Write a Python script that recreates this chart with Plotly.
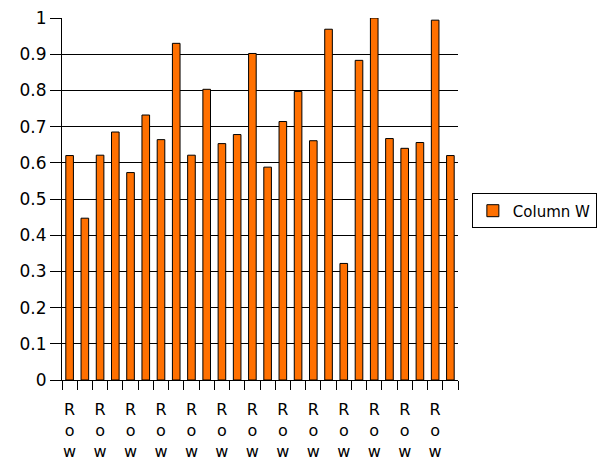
import plotly.graph_objects as go

categories = [f"Row {i}" for i in range(1, 27)]
values = [0.620, 0.447, 0.621, 0.685, 0.573, 0.732, 0.664, 0.930, 0.621, 0.803,
          0.653, 0.678, 0.902, 0.588, 0.714, 0.797, 0.661, 0.969, 0.322, 0.883,
          1.000, 0.667, 0.640, 0.656, 0.994, 0.620]
tick_labels = ["R<br>o<br>w" if i % 2 == 0 else "" for i in range(len(categories))]
y_ticks = [0, 0.1, 0.2, 0.3, 0.4, 0.5, 0.6, 0.7, 0.8, 0.9, 1]
y_tick_text = ["0", "0.1", "0.2", "0.3", "0.4", "0.5", "0.6", "0.7", "0.8", "0.9", "1"]

fig = go.Figure()
fig.add_trace(go.Bar(
    x=categories, y=values, name="Column W",
    marker=dict(color="#ff7000", line=dict(color="#000000", width=1)),
    width=0.5,
))

font = "DejaVu Sans, sans-serif"
fig.update_layout(
    width=602, height=464,
    margin=dict(l=62, r=144, t=18, b=84, autoexpand=False),
    paper_bgcolor="white", plot_bgcolor="white",
    font=dict(family=font, size=17, color="#000000"),
    showlegend=True,
    legend=dict(x=1.035, y=0.467, xanchor="left", yanchor="middle",
                bordercolor="#000000", borderwidth=1,
                font=dict(family=font, size=15, color="#000000")),
    bargap=0.5,
)
fig.update_xaxes(
    type="category", automargin=False,
    tickmode="array", tickvals=categories, ticktext=tick_labels,
    tickson="boundaries", ticks="outside", ticklen=9, tickcolor="#000000", tickwidth=1,
    ticklabelstandoff=15,
    showline=True, linecolor="#000000", linewidth=1,
    showgrid=False, tickangle=0,
    tickfont=dict(family=font, size=16, color="#000000"),
)
fig.update_yaxes(
    range=[0, 1], automargin=False,
    tickmode="array", tickvals=y_ticks, ticktext=y_tick_text,
    ticks="outside", ticklen=11, tickcolor="#000000", tickwidth=1,
    showline=True, linecolor="#000000", linewidth=1,
    showgrid=True, gridcolor="#000000", gridwidth=1,
    zeroline=False,
    tickfont=dict(family=font, size=17, color="#000000"),
)

fig.write_html("out.html", config={"displayModeBar": False},
               post_script="document.body.style.margin='0';document.body.style.overflow='hidden';")
